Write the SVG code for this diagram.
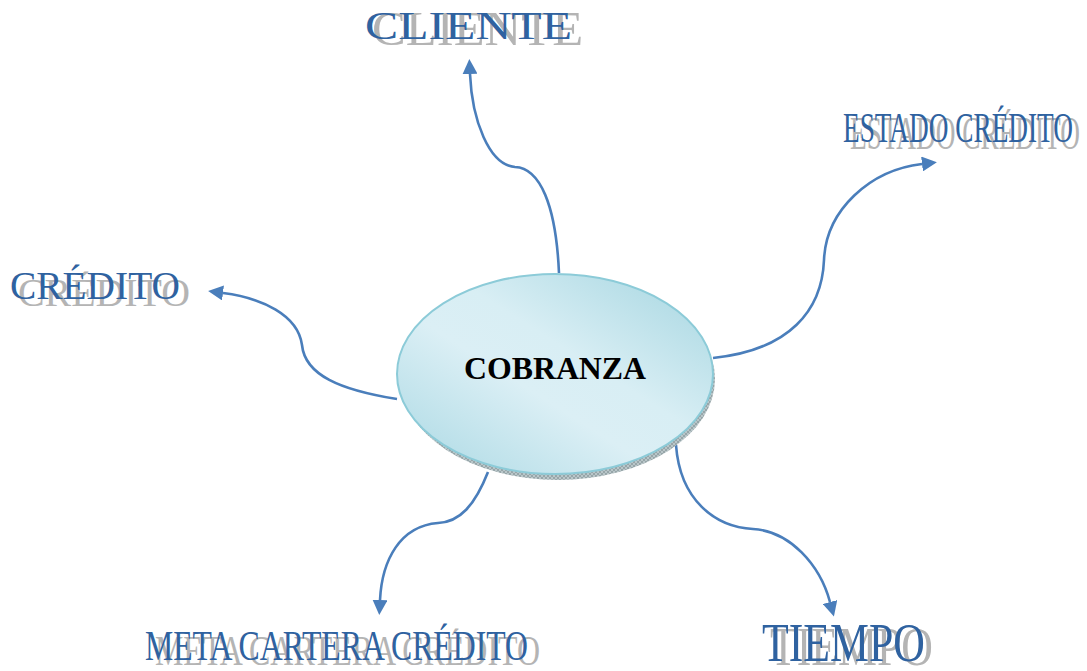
<svg xmlns="http://www.w3.org/2000/svg" width="1087" height="671" viewBox="0 0 1087 671">
<style>
.lbl{font-family:"Liberation Serif","Times New Roman",serif;fill:#2f62a0;}
.shd{font-family:"Liberation Serif","Times New Roman",serif;fill:#b4b4b4;}
.conn{fill:none;stroke:#4a7ebb;stroke-width:2.6;marker-end:url(#arr);}
.center{font-family:"Liberation Serif","Times New Roman",serif;font-weight:bold;fill:#000;}
</style>
<defs>
<marker id="arr" viewBox="0 0 14 14" refX="0" refY="7" markerWidth="15" markerHeight="15" markerUnits="userSpaceOnUse" orient="auto">
<path d="M0,0 L14,7 L0,14 z" fill="#4a7ebb"/>
</marker>
<linearGradient id="face" x1="0" y1="1" x2="1" y2="0">
<stop offset="0" stop-color="#a9d8e3"/>
<stop offset="0.42" stop-color="#dbeff5"/>
<stop offset="0.58" stop-color="#d8eef4"/>
<stop offset="1" stop-color="#a4d5e0"/>
</linearGradient>
<pattern id="hatch" width="4" height="4" patternUnits="userSpaceOnUse">
<rect width="4" height="4" fill="#b9c6c9"/>
<path d="M0,4 L4,0 M0,0 L4,4" stroke="#7f9094" stroke-width="0.6"/>
</pattern>
</defs>
<rect width="1087" height="671" fill="#fff"/>

<g id="connectors">
<path class="conn" d="M559,273 C556,205 540,168 515,167 C489,165 472,120 470,74"/>
<path class="conn" d="M713,358 C790,350 822,310 824,260 C826,210 870,170 922,164"/>
<path class="conn" d="M397,399 C340,390 305,375 302,345 C298,315 262,298 223,293"/>
<path class="conn" d="M488,472 C475,505 460,522 438,523 C400,526 382,560 380,600"/>
<path class="conn" d="M676,445 C680,500 715,527 753,529 C790,531 820,565 830,602"/>
</g>

<g id="cobranza">
<ellipse cx="558" cy="379" rx="157" ry="101" fill="url(#hatch)"/>
<ellipse cx="555" cy="374" rx="158" ry="100" fill="url(#face)" stroke="#8ccbd8" stroke-width="2"/>
<text class="center" x="555" y="379" font-size="31" text-anchor="middle" textLength="182" lengthAdjust="spacingAndGlyphs">COBRANZA</text>
</g>

<g id="cliente">
<text class="shd" x="0" y="0" font-size="41" textLength="207" lengthAdjust="spacingAndGlyphs" transform="translate(372,45) scale(1.02,1.2)">CLIENTE</text>
<text class="lbl" x="365" y="39" font-size="41" textLength="207" lengthAdjust="spacingAndGlyphs">CLIENTE</text>
</g>

<g id="estado-credito">
<text class="shd" x="0" y="0" font-size="42" textLength="230" lengthAdjust="spacingAndGlyphs" transform="translate(850,149) scale(1,1.1)">ESTADO CRÉDITO</text>
<text class="lbl" x="843" y="142" font-size="42" textLength="230" lengthAdjust="spacingAndGlyphs">ESTADO CRÉDITO</text>
</g>

<g id="credito">
<text class="shd" x="0" y="0" font-size="39" textLength="172" lengthAdjust="spacingAndGlyphs" transform="translate(18,306) scale(1,1.05)">CRÉDITO</text>
<text class="lbl" x="10" y="299" font-size="39" textLength="170" lengthAdjust="spacingAndGlyphs">CRÉDITO</text>
</g>

<g id="meta-cartera-credito">
<text class="shd" x="0" y="0" font-size="42" textLength="385" lengthAdjust="spacingAndGlyphs" transform="translate(155,665) scale(1,1)">META CARTERA CRÉDITO</text>
<text class="lbl" x="145" y="660" font-size="42" textLength="383" lengthAdjust="spacingAndGlyphs">META CARTERA CRÉDITO</text>
</g>

<g id="tiempo">
<text class="shd" x="0" y="0" font-size="55" textLength="163" lengthAdjust="spacingAndGlyphs" transform="translate(770,665) scale(1,1)">TIEMPO</text>
<text class="lbl" x="762" y="661" font-size="55" textLength="163" lengthAdjust="spacingAndGlyphs">TIEMPO</text>
</g>
</svg>
